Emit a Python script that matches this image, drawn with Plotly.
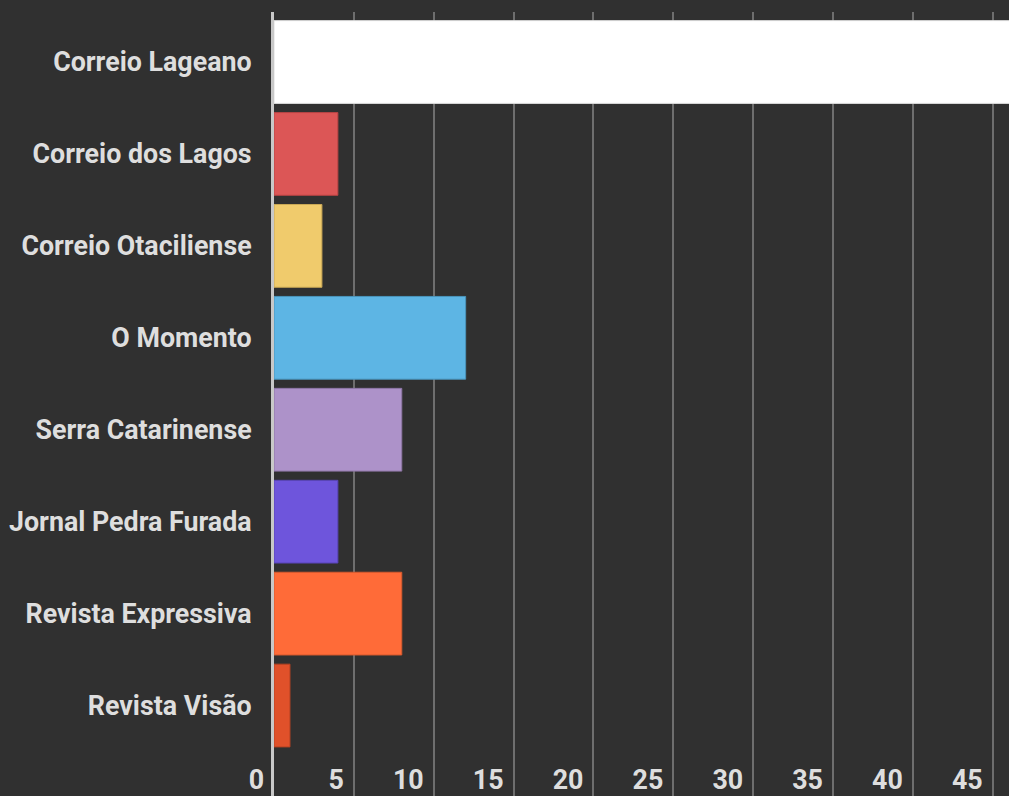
import plotly.graph_objects as go

categories = ["Correio Lageano", "Correio dos Lagos", "Correio Otaciliense", "O Momento",
              "Serra Catarinense", "Jornal Pedra Furada", "Revista Expressiva", "Revista Visão"]
values = [50, 4, 3, 12, 8, 4, 8, 1]
colors = ["#ffffff", "#dc5656", "#f0cb6c", "#5db5e4", "#ad92c9", "#6e55dc", "#ff6b38", "#e0512a"]
borders = ["#dddddd", "#b84444", "#c9a855", "#4a94bb", "#8e76a6", "#5844b6", "#d85a2e", "#b84322"]
x_ticks = [0, 5, 10, 15, 20, 25, 30, 35, 40, 45]

fig = go.Figure(go.Bar(
    y=categories, x=values, orientation="h",
    marker=dict(color=colors, line=dict(color=borders, width=1)),
    width=0.9,
))

font = dict(family="Roboto", size=26.8, color="#dedede", weight="bold")

fig.update_layout(
    width=1009, height=796,
    margin=dict(l=274, r=0, t=12, b=0),
    paper_bgcolor="#303030", plot_bgcolor="#303030",
    showlegend=False,
    bargap=0.1,
    xaxis=dict(
        range=[0, 46.02], tickvals=x_ticks, ticktext=[str(v) for v in x_ticks],
        showgrid=True, gridcolor="#6e6e6e", gridwidth=2,
        zeroline=False, showline=False, automargin=False,
        ticklabelposition="inside left", ticklabeloverflow="allow",
        ticklabelshift=-10, ticklabelstandoff=-4,
        tickfont=font,
    ),
    yaxis=dict(
        categoryorder="array", categoryarray=categories,
        range=[7.984, -0.544], automargin=False,
        showgrid=False, zeroline=False,
        showline=True, linecolor="#c8c8c8", linewidth=3,
        tickfont=font, ticklabelstandoff=14,
    ),
)

fig.write_html("out.html", config={"displayModeBar": False},
               post_script="document.body.style.margin='0';document.body.style.overflow='hidden';")
